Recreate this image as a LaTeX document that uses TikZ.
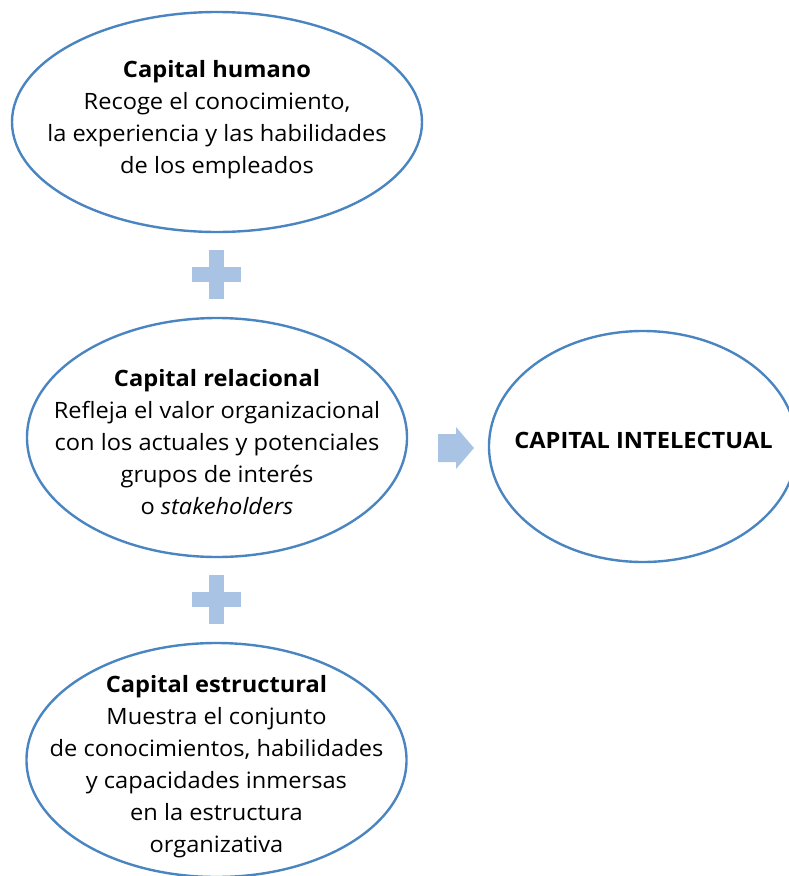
\documentclass[tikz,border=0pt]{standalone}
\usepackage{fontspec}
\setmainfont{Open Sans}[FakeStretch=1.05]
\usetikzlibrary{shapes.geometric}
\definecolor{borde}{HTML}{4A85C1}
\definecolor{relleno}{HTML}{A8C3E3}
\tikzset{
  capital/.style={ellipse,draw=borde,line width=2.4pt,inner sep=0pt},
  texto/.style={align=center,font=\fontsize{22.5}{32}\selectfont},
  mas/.style={rectangle,fill=relleno,inner sep=0pt}
}
\begin{document}
\begin{tikzpicture}[x=1pt,y=-1pt]
      \useasboundingbox (0,0) rectangle (789,876);
      \clip (0,0) rectangle (789,876);

      % ellipses
      \node[capital,minimum width=410pt,minimum height=220pt] (humano)     at (217,122)   {};
      \node[capital,minimum width=380pt,minimum height=239pt] (relacional) at (217,437.5) {};
      \node[capital,minimum width=380pt,minimum height=234pt] (estructural) at (216.5,760) {};
      \node[capital,minimum width=308pt,minimum height=231pt] (intelectual) at (643,446.5) {};

      % texts
      \begin{scope}[every node/.style={texto}]
        \node (humano-txt) at (humano) [yshift=2pt]
          {\textbf{Capital humano}\\Recoge el conocimiento,\\la experiencia y las habilidades\\de los empleados};
        \node (relacional-txt) at (217,442)
          {\textbf{Capital relacional}\\Refleja el valor organizacional\\con los actuales y potenciales\\grupos de interés\\o \textit{stakeholders}};
        \node (estructural-txt) at (216.5,767)
          {\textbf{Capital estructural}\\Muestra el conjunto\\de conocimientos, habilidades\\y capacidades inmersas\\en la estructura\\organizativa};
        \node (intelectual-txt) at (643.5,440) {\textbf{CAPITAL INTELECTUAL}};
      \end{scope}

      % plus signs
      \begin{scope}[every node/.style={mas}]
        \node[minimum width=49pt,minimum height=15.5pt] (mas1h) at (216.5,274.5) {};
        \node[minimum width=15pt,minimum height=49pt]   (mas1v) at (216.5,274.5) {};
        \node[minimum width=49pt,minimum height=15.5pt] (mas2h) at (216.5,599.5) {};
        \node[minimum width=15pt,minimum height=49pt]   (mas2v) at (216.5,599.5) {};
      \end{scope}

      % arrow
      \coordinate (flecha) at (456,447);
      \fill[relleno] (flecha) ++(-18,-13) -- ++(18,0) -- ++(0,-7) -- ++(18,21)
        -- ++(-18,21) -- ++(0,-7) -- ++(-18,0) -- cycle;

\end{tikzpicture}
\end{document}
